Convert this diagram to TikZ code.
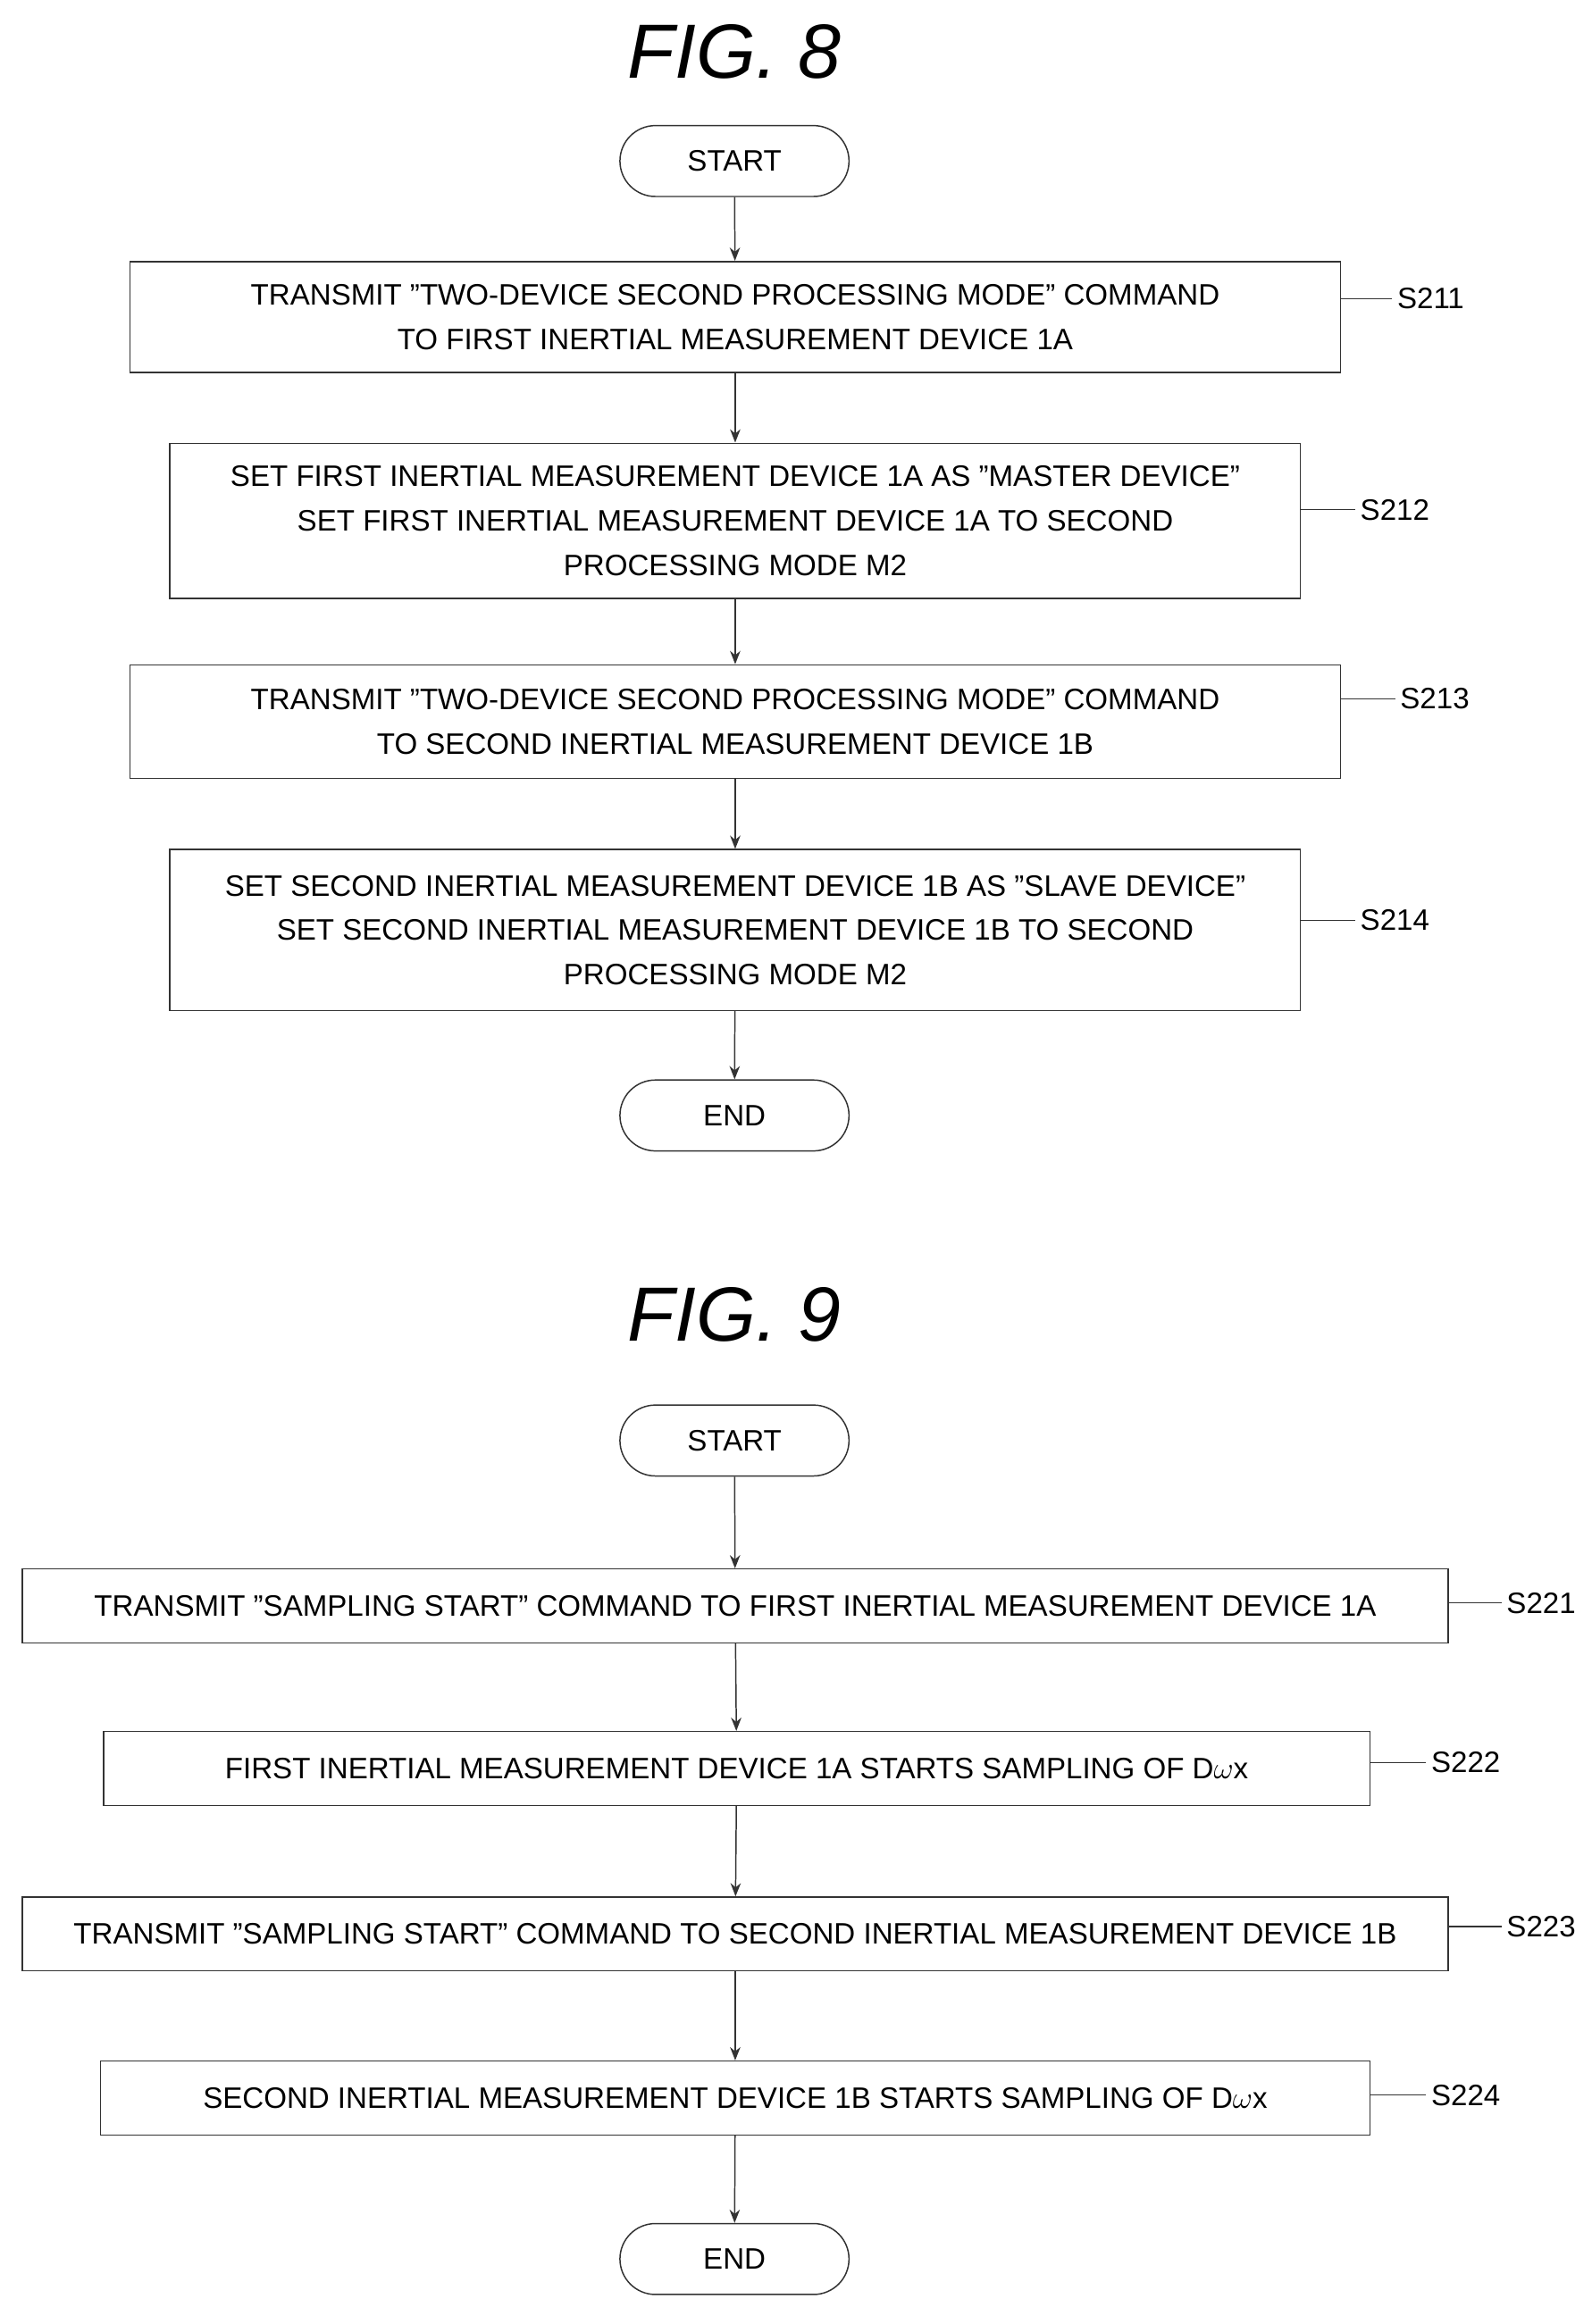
\documentclass[tikz,border=0pt]{standalone}
\usepackage{fontspec}
\setmainfont{Liberation Sans}
\usetikzlibrary{arrows.meta}
\begin{document}
\begin{tikzpicture}[x=1pt,y=-1pt,
  box/.style={draw=black!80,line width=0.9pt,inner sep=0pt,align=center,font=\fontsize{20}{30}\selectfont},
  term/.style={draw=black!80,line width=0.9pt,rounded corners=24pt,minimum width=155pt,minimum height=48pt,font=\fontsize{20}{24}\selectfont},
  title/.style={font=\fontsize{52}{56}\selectfont\itshape},
  lab/.style={font=\fontsize{20}{24}\selectfont,anchor=west},
  arr/.style={-{Stealth[length=9pt,width=7pt]},line width=0.9pt,draw=black!80},
  lead/.style={line width=0.7pt,draw=black!80}]
\useasboundingbox (0,0) rectangle (1077,1573);
\fill[white] (0,0) rectangle (1077,1573);
\node[title] (t8) at (497,35) {FIG. 8};
\node[term] (s8) at (497,109) {START};
\node[box,minimum width=819pt,minimum height=75pt] (a) at (497.5,214.5) {TRANSMIT "TWO-DEVICE SECOND PROCESSING MODE" COMMAND\\TO FIRST INERTIAL MEASUREMENT DEVICE 1A};
\node[box,minimum width=765pt,minimum height=105pt] (b) at (497.5,352.5) {SET FIRST INERTIAL MEASUREMENT DEVICE 1A AS "MASTER DEVICE"\\SET FIRST INERTIAL MEASUREMENT DEVICE 1A TO SECOND\\PROCESSING MODE M2};
\node[box,minimum width=819pt,minimum height=77pt] (c) at (497.5,488.5) {TRANSMIT "TWO-DEVICE SECOND PROCESSING MODE" COMMAND\\TO SECOND INERTIAL MEASUREMENT DEVICE 1B};
\node[box,minimum width=765pt,minimum height=109pt] (d) at (497.5,629.5) {SET SECOND INERTIAL MEASUREMENT DEVICE 1B AS "SLAVE DEVICE"\\SET SECOND INERTIAL MEASUREMENT DEVICE 1B TO SECOND\\PROCESSING MODE M2};
\node[term] (e8) at (497,755) {END};
\draw[arr] (s8) -- (a); \draw[arr] (a) -- (b); \draw[arr] (b) -- (c); \draw[arr] (c) -- (d); \draw[arr] (d) -- (e8);
\node[lab] (la) at (942,202) {S211}; \draw[lead] (a.east|-la) -- (la.west);
\node[lab] (lb) at (917,345) {S212}; \draw[lead] (b.east|-lb) -- (lb.west);
\node[lab] (lc) at (944,473) {S213}; \draw[lead] (c.east|-lc) -- (lc.west);
\node[lab] (ld) at (917,623) {S214}; \draw[lead] (d.east|-ld) -- (ld.west);
\node[title] (t9) at (497,890) {FIG. 9};
\node[term] (s9) at (497,975) {START};
\node[box,minimum width=965pt,minimum height=50pt] (f) at (497.5,1087) {TRANSMIT "SAMPLING START" COMMAND TO FIRST INERTIAL MEASUREMENT DEVICE 1A};
\node[box,minimum width=857pt,minimum height=50pt] (g) at (498.5,1197) {FIRST INERTIAL MEASUREMENT DEVICE 1A STARTS SAMPLING OF D$\omega$x};
\node[box,minimum width=965pt,minimum height=50pt] (h) at (497.5,1309) {TRANSMIT "SAMPLING START" COMMAND TO SECOND INERTIAL MEASUREMENT DEVICE 1B};
\node[box,minimum width=859pt,minimum height=50pt] (i) at (497.5,1420) {SECOND INERTIAL MEASUREMENT DEVICE 1B STARTS SAMPLING OF D$\omega$x};
\node[term] (e9) at (497,1529) {END};
\draw[arr] (s9) -- (f); \draw[arr] (f) -- (g); \draw[arr] (g) -- (h); \draw[arr] (h) -- (i); \draw[arr] (i) -- (e9);
\node[lab] (lf) at (1016,1085) {S221}; \draw[lead] (f.east|-lf) -- (lf.west);
\node[lab] (lg) at (965,1193) {S222}; \draw[lead] (g.east|-lg) -- (lg.west);
\node[lab] (lh) at (1016,1304) {S223}; \draw[lead] (h.east|-lh) -- (lh.west);
\node[lab] (li) at (965,1418) {S224}; \draw[lead] (i.east|-li) -- (li.west);
\end{tikzpicture}
\end{document}
